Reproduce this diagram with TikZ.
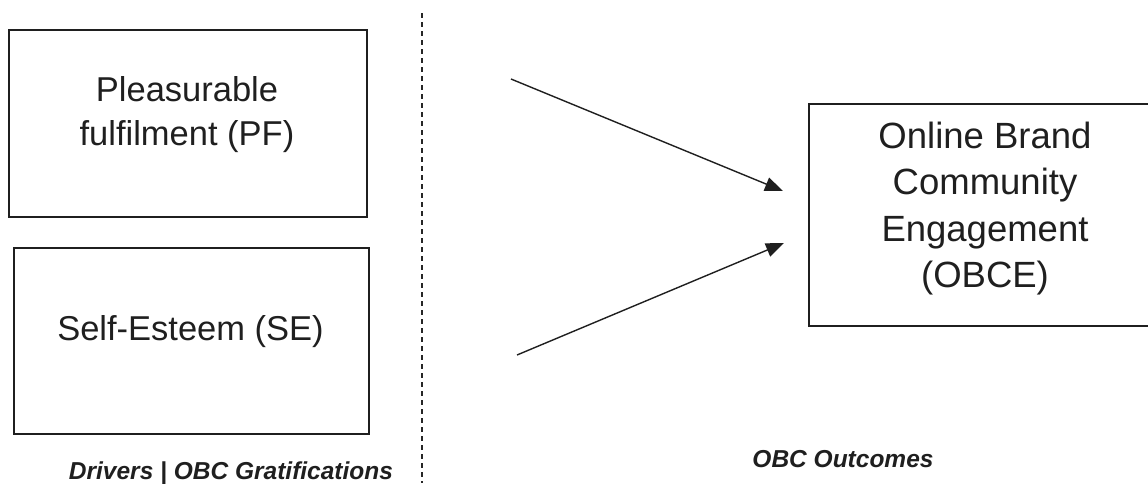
\documentclass[tikz,border=0pt]{standalone}
\usepackage{fontspec}
\setmainfont{Liberation Sans}
\usetikzlibrary{arrows.meta}

\tikzset{
  box/.style={draw=black!88, line width=2pt, rectangle, inner sep=0pt, anchor=north west},
  boxtext/.style={inner sep=0pt, anchor=base, text=black!88},
  caption/.style={inner sep=0pt, anchor=base, text=black!88,
    font=\fontsize{24.5}{28}\selectfont\bfseries\itshape},
  link/.style={draw=black!88, line width=1.4pt, -{Triangle[length=18pt,width=14pt]}},
  divider/.style={draw=black!85, line width=1.3pt, dash pattern=on 5pt off 4pt}
}

\begin{document}
\begin{tikzpicture}[x=1pt,y=-1pt]
  \useasboundingbox (0,0) rectangle (1148,483);
  \clip (0,0) rectangle (1148,483);

  % driver boxes
  \node[box, minimum width=358pt, minimum height=187pt] (pf) at (8,29) {};
  \node[box, minimum width=355pt, minimum height=186pt] (se) at (13,247) {};

  \node[boxtext] (pftext) at (187,101.5)
    {\fontsize{34.5}{44}\selectfont\begin{tabular}[t]{@{}c@{}}Pleasurable\\ fulfilment (PF)\end{tabular}};
  \node[boxtext] (setext) at (190.5,340)
    {\fontsize{34.5}{44}\selectfont Self-Esteem (SE)};

  % outcome box
  \node[box, minimum width=360pt, minimum height=222pt] (obce) at (808,103) {};
  \node[boxtext] (obcetext) at (985,148.5)
    {\fontsize{36.5}{46.3}\selectfont\begin{tabular}[t]{@{}c@{}}Online Brand\\ Community\\ Engagement\\ (OBCE)\end{tabular}};

  % divider between drivers and outcomes
  \coordinate (divtop) at (422,13);
  \coordinate (divbot) at (422,483);
  \draw[divider] (divtop) -- (divbot);

  % paths into the outcome
  \coordinate (pfout) at (511,79);
  \coordinate (seout) at (517,355);
  \coordinate (obcein1) at (783,191);
  \coordinate (obcein2) at (784,243);
  \draw[link] (pfout) -- (obcein1);
  \draw[link] (seout) -- (obcein2);

  % column captions
  \node[caption] (drivers) at (231,479) {Drivers | OBC Gratifications};
  \node[caption] (outcomes) at (843,467) {OBC Outcomes};
\end{tikzpicture}
\end{document}
